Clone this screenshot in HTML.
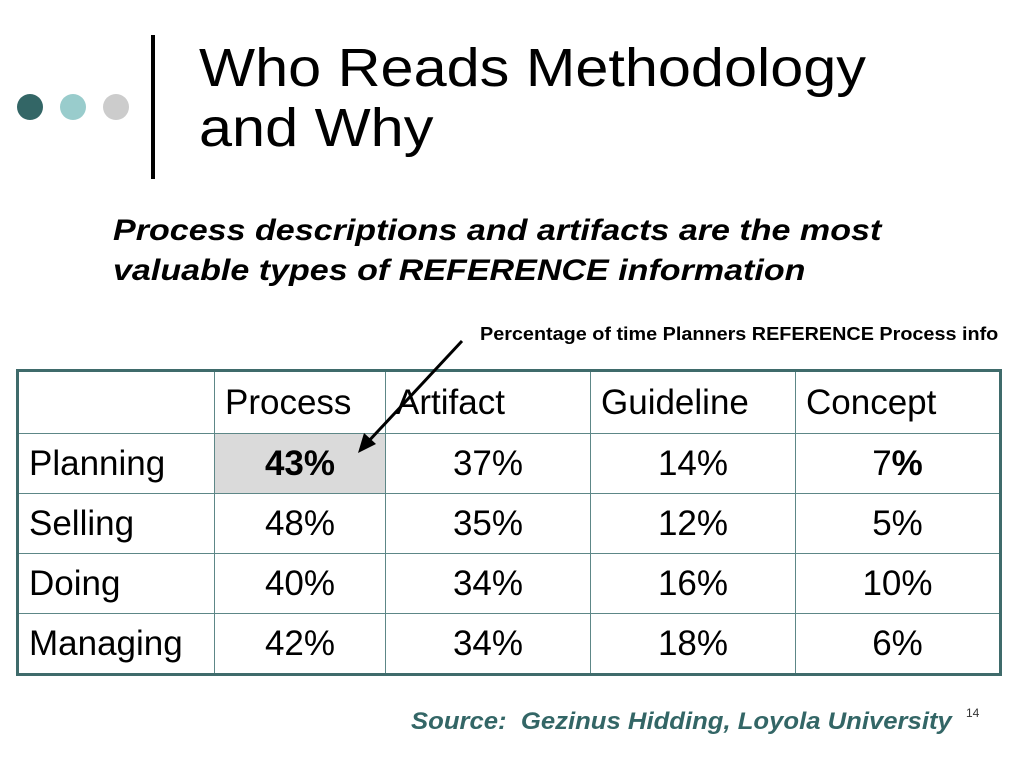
<!DOCTYPE html>
<html><head><meta charset="utf-8"><style>
body{margin:0;width:1024px;height:768px;background:#fff;position:relative;overflow:hidden;font-family:"Liberation Sans",Arial,sans-serif}
.a{position:absolute;white-space:nowrap;transform-origin:0 0}
.dot{position:absolute;width:26px;height:26px;border-radius:50%;top:94px}
table{position:absolute;left:16px;top:369px;border-collapse:collapse;border:3px solid #3f6b6b;table-layout:fixed;width:983px}
td{border:1.5px solid #5d8787;font-size:35px;padding:0;height:59px;text-align:center;color:#000;white-space:nowrap}
td.l{text-align:left;padding-left:10px}
</style></head><body>
<div class="dot" style="left:17px;background:#336666"></div>
<div class="dot" style="left:60px;background:#99cccc"></div>
<div class="dot" style="left:103px;background:#cccccc"></div>
<div class="a" style="left:151px;top:35px;width:4px;height:144px;background:#000"></div>
<div class="a" style="left:199px;top:38px;font-size:54px;line-height:60px;color:#000;transform:scaleX(1.1)">Who Reads Methodology<br>and Why</div>
<div class="a" style="left:113px;top:211px;font-size:30px;line-height:40px;font-weight:bold;font-style:italic;transform:scaleX(1.135)">Process descriptions and artifacts are the most<br>valuable types of REFERENCE information</div>
<div class="a" style="left:480px;top:324px;font-size:18px;font-weight:bold;transform:scaleX(1.1)">Percentage of time Planners REFERENCE Process info</div>
<table>
<colgroup><col style="width:197px"><col style="width:171px"><col style="width:205px"><col style="width:205px"><col style="width:205px"></colgroup>
<tr style="height:63px"><td></td><td class="l">Process</td><td class="l">Artifact</td><td class="l">Guideline</td><td class="l">Concept</td></tr>
<tr><td class="l">Planning</td><td style="background:#dadada;font-weight:bold">43%</td><td>37%</td><td>14%</td><td>7<b>%</b></td></tr>
<tr><td class="l">Selling</td><td>48%</td><td>35%</td><td>12%</td><td>5%</td></tr>
<tr><td class="l">Doing</td><td>40%</td><td>34%</td><td>16%</td><td>10%</td></tr>
<tr><td class="l">Managing</td><td>42%</td><td>34%</td><td>18%</td><td>6%</td></tr>
</table>
<svg class="a" style="left:0;top:0" width="1024" height="768">
<line x1="462" y1="341" x2="366" y2="444" stroke="#000" stroke-width="3"/>
<polygon points="358,453 364,433 376,444" fill="#000"/>
</svg>
<div class="a" style="left:411px;top:708px;font-size:24px;font-weight:bold;font-style:italic;color:#336666;transform:scaleX(1.07)">Source:&nbsp; Gezinus Hidding, Loyola University</div>
<div class="a" style="left:966px;top:706px;font-size:12px;color:#333">14</div>
</body></html>
